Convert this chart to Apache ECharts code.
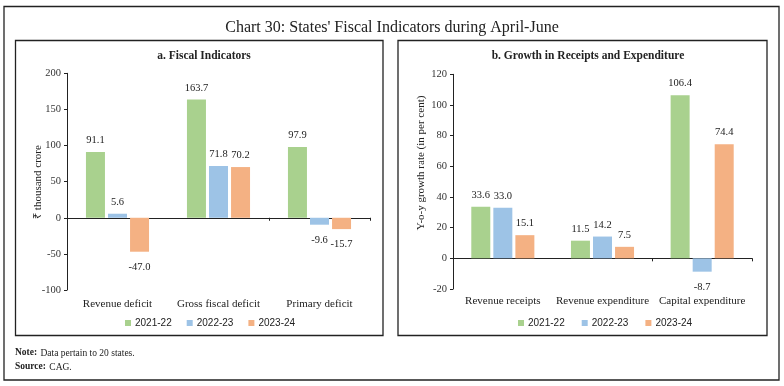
<!DOCTYPE html>
<html>
<head>
<meta charset="utf-8">
<script src="https://cdn.jsdelivr.net/npm/echarts@6/dist/echarts.min.js"></script>
<style>
html,body{margin:0;padding:0;background:#fff;}
#chart{width:784px;height:386px;}
</style>
</head>
<body>
<div id="chart"></div>
<script>
var seriesNames = ['2021-22', '2022-23', '2023-24'];
var colors = ['#A9D18E', '#9DC3E6', '#F4B183'];

var catsA = ['Revenue deficit', 'Gross fiscal deficit', 'Primary deficit'];
var a2122 = [91.1, 163.7, 97.9];
var a2223 = [5.6, 71.8, -9.6];
var a2324 = [-47.0, 70.2, -15.7];
var ticksA = { min: -100, max: 200, interval: 50 };

var catsB = ['Revenue receipts', 'Revenue expenditure', 'Capital expenditure'];
var b2122 = [33.6, 11.5, 106.4];
var b2223 = [33.0, 14.2, -8.7];
var b2324 = [15.1, 7.5, 74.4];
var ticksB = { min: -20, max: 120, interval: 20 };

var SERIF = 'Liberation Serif';
var SANS = 'Liberation Sans';

function mkData(arr) {
  return arr.map(function (v) {
    return {
      value: v,
      label: v < 0 ? { position: 'bottom', distance: 10 } : { position: 'top', distance: 6 }
    };
  });
}

function mkSeries(name, arr, idx, color) {
  return {
    name: name,
    type: 'bar',
    xAxisIndex: idx * 2,
    yAxisIndex: idx,
    barWidth: 19,
    barGap: '16%',
    itemStyle: { color: color },
    label: {
      show: true,
      fontFamily: SERIF,
      fontSize: 10.5,
      color: '#222',
      formatter: function (p) { return p.value.toFixed(1); }
    },
    data: mkData(arr)
  };
}

function xLine(gi, cats) {
  return {
    type: 'category', gridIndex: gi, data: cats,
    axisLine: { onZero: true, lineStyle: { color: '#222', width: 1 } },
    axisTick: { show: true, length: 3, lineStyle: { color: '#222' } },
    axisLabel: { show: false },
    splitLine: { show: false }
  };
}
function xLabels(gi, cats, margin) {
  return {
    type: 'category', gridIndex: gi, data: cats, position: 'bottom',
    axisLine: { show: false, onZero: false },
    axisTick: { show: false },
    axisLabel: { show: true, fontFamily: SERIF, fontSize: 11, color: '#222', margin: margin, interval: 0 },
    splitLine: { show: false }
  };
}
function yAx(gi, t) {
  return {
    type: 'value', gridIndex: gi, min: t.min, max: t.max, interval: t.interval,
    axisLine: { show: true, lineStyle: { color: '#222', width: 1 } },
    axisTick: { show: true, length: 3, lineStyle: { color: '#222' } },
    axisLabel: { fontFamily: SERIF, fontSize: 10.5, color: '#333', margin: 6 },
    splitLine: { show: false }
  };
}

var chart = echarts.init(document.getElementById('chart'), null, { renderer: 'canvas' });
chart.setOption({
  backgroundColor: '#fff',
  animation: false,
  title: [
    { text: "Chart 30: States' Fiscal Indicators during April-June", left: 'center', top: 15,
      textStyle: { fontFamily: SERIF, fontSize: 16, fontWeight: 'normal', color: '#222' } },
    { text: 'a. Fiscal Indicators', left: 199, textAlign: 'center', top: 45,
      textStyle: { fontFamily: SERIF, fontSize: 11.5, fontWeight: 'bold', color: '#222' } },
    { text: 'b. Growth in Receipts and Expenditure', left: 583, textAlign: 'center', top: 45,
      textStyle: { fontFamily: SERIF, fontSize: 11.5, fontWeight: 'bold', color: '#222' } }
  ],
  grid: [
    { left: 67, right: 414, top: 73.3, bottom: 96 },
    { left: 453, right: 32, top: 74.3, bottom: 97 }
  ],
  legend: [
    { data: seriesNames, left: 120, top: 313, itemWidth: 6, itemHeight: 6, itemGap: 15, icon: 'rect',
      textStyle: { fontFamily: SANS, fontSize: 10, color: '#222', padding: [0, 0, 0, -1] } },
    { data: seriesNames, left: 513, top: 313, itemWidth: 6, itemHeight: 6, itemGap: 17, icon: 'rect',
      textStyle: { fontFamily: SANS, fontSize: 10, color: '#222', padding: [0, 0, 0, -1] } }
  ],
  xAxis: [xLine(0, catsA), xLabels(0, catsA, 9), xLine(1, catsB), xLabels(1, catsB, 7)],
  yAxis: [yAx(0, ticksA), yAx(1, ticksB)],
  series: [
    mkSeries(seriesNames[0], a2122, 0, colors[0]),
    mkSeries(seriesNames[1], a2223, 0, colors[1]),
    mkSeries(seriesNames[2], a2324, 0, colors[2]),
    mkSeries(seriesNames[0], b2122, 1, colors[0]),
    mkSeries(seriesNames[1], b2223, 1, colors[1]),
    mkSeries(seriesNames[2], b2324, 1, colors[2])
  ],
  graphic: [
    { type: 'rect', shape: { x: 4, y: 6.5, width: 775, height: 373.5 }, style: { fill: 'none', stroke: '#222', lineWidth: 1.3 }, silent: true },
    { type: 'rect', shape: { x: 15.5, y: 40.5, width: 367.5, height: 295 }, style: { fill: 'none', stroke: '#222', lineWidth: 1.3 }, silent: true },
    { type: 'rect', shape: { x: 398, y: 40.5, width: 369, height: 295 }, style: { fill: 'none', stroke: '#222', lineWidth: 1.3 }, silent: true },
    { type: 'text', x: 38, y: 182, rotation: Math.PI / 2,
      style: { text: '₹ thousand crore', fontFamily: SERIF, fontSize: 11, fill: '#222', textAlign: 'center', textVerticalAlign: 'middle' } },
    { type: 'text', x: 421, y: 163, rotation: Math.PI / 2,
      style: { text: 'Y-o-y growth rate (in per cent)', fontFamily: SERIF, fontSize: 11, fill: '#222', textAlign: 'center', textVerticalAlign: 'middle' } },
    { type: 'text', x: 15, y: 347,
      style: { rich: { b: { fontFamily: SERIF, fontSize: 9.5, fontWeight: 'bold', fill: '#222' }, n: { fontFamily: SERIF, fontSize: 9.5, fill: '#222' } },
        text: '{b|Note:} {n|Data pertain to 20 states.}' } },
    { type: 'text', x: 15, y: 361,
      style: { rich: { b: { fontFamily: SERIF, fontSize: 9.5, fontWeight: 'bold', fill: '#222' }, n: { fontFamily: SERIF, fontSize: 9.5, fill: '#222' } },
        text: '{b|Source:} {n|CAG.}' } }
  ]
});
</script>
</body>
</html>
